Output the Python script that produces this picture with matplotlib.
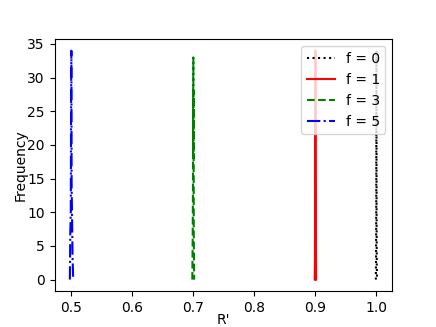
import matplotlib
matplotlib.use('Agg')
import matplotlib.pyplot as plt

# histogram of R' for each f (bin centre, count)
r0 = [0.9990, 0.9994, 0.9997, 0.9999, 1.0000, 1.0001, 1.0003, 1.0006, 1.0010]
c0 = [0, 4, 12, 30, 34, 22, 9, 2, 0]

r1 = [0.8988, 0.8992, 0.8996, 0.8999, 0.9000, 0.9002, 0.9005, 0.9009, 0.9012]
c1 = [0, 3, 13, 28, 34, 20, 12, 4, 0]

r3 = [0.6982, 0.6988, 0.6993, 0.6996, 0.6999, 0.7001, 0.7003, 0.7006, 0.7012]
c3 = [0, 6, 14, 26, 33, 18, 28, 7, 0]

r5 = [0.4975, 0.4982, 0.4990, 0.4996, 0.5000, 0.5004, 0.5010, 0.5020, 0.5030]
c5 = [0, 7, 10, 28, 34, 14, 10, 3, 0]

fig = plt.figure(figsize=(4.36, 3.27), dpi=100)
plt.plot(r0, c0, 'k:', label='f = 0')
plt.plot(r1, c1, 'r-', label='f = 1')
plt.plot(r3, c3, 'g--', label='f = 3')
plt.plot(r5, c5, 'b-.', label='f = 5')

plt.xlabel("R'", labelpad=-1.5)
plt.ylabel('Frequency', labelpad=0)
plt.legend(loc='upper right')
plt.savefig('out.png')
